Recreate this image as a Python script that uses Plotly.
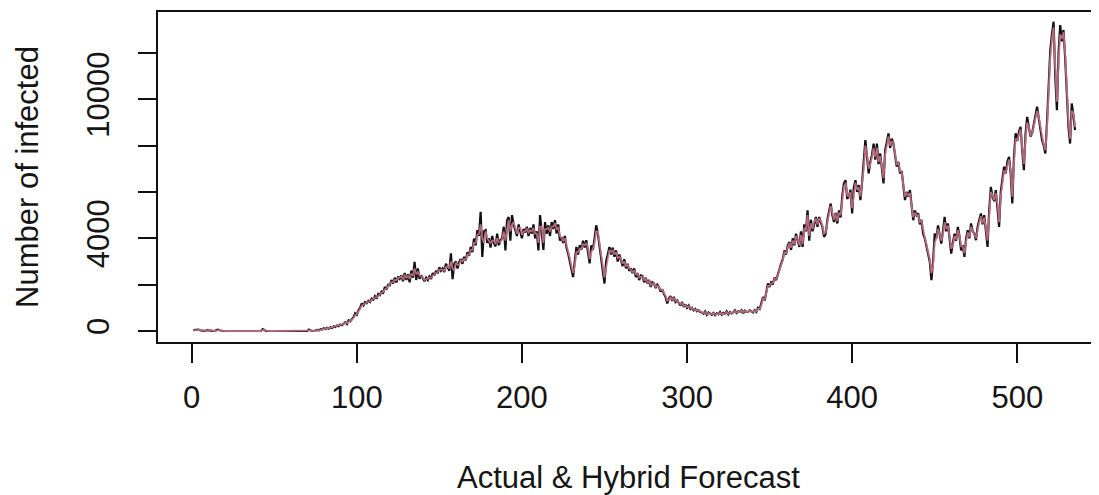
import plotly.graph_objects as go

# Daily actual infected counts, rows = weeks
actual = [
    40, 50, 30, 60, 40, 20, 0,
    0, 30, 50, 40, 0, 0, 0,
    40, 60, 30, 0, 0, 0, 0,
    0, 0, 0, 0, 0, 0, 0,
    0, 0, 0, 0, 0, 0, 0,
    0, 0, 0, 0, 0, 0, 0,
    80, 40, 0, 0, 0, 0, 0,
    0, 0, 0, 0, 0, 0, 0,
    0, 0, 0, 0, 0, 0, 0,
    0, 0, 0, 0, 0, 0, 0,
    60, 20, 0, 0, 30, 50, 20,
    80, 60, 120, 90, 140, 100, 160,
    130, 200, 170, 240, 210, 280, 250,
    320, 380, 300, 460, 420, 520, 600,
    760, 700, 900, 1000, 1190, 1100, 1250,
    1200, 1300, 1250, 1400, 1350, 1500, 1400,
    1600, 1550, 1700, 1650, 1900, 1800, 2000,
    1970, 2200, 2050, 2300, 2100, 2350, 2250,
    2400, 2150, 2500, 2200, 2450, 2100, 2600,
    2300, 2980, 2200, 2700, 2250, 2400, 2270,
    2150, 2300, 2200, 2350, 2250, 2500, 2400,
    2600, 2490, 2750, 2600, 2700, 2550, 2900,
    2750, 2600, 3350, 2240, 2900, 3000, 2700,
    2980, 3100, 2900, 3200, 3050, 3400, 3250,
    3630, 3400, 3990, 3700, 4350, 4100, 5140,
    3200, 4300, 4350, 3800, 4000, 3600, 4100,
    3800, 3650, 4200, 3700, 3920, 4000, 4500,
    3480, 4780, 4920, 3900, 5000, 4600, 4350,
    4100, 4600, 4350, 4000, 4400, 4250, 4500,
    4100, 4450, 4200, 4600, 4000, 4300, 3480,
    5000, 4300, 3500, 4700, 4200, 4560, 4100,
    4700, 4400, 4780, 4200, 4600, 3900, 4060,
    3800, 4100, 3600, 3340, 3000, 2600, 2330,
    3000, 3630, 3300, 3700, 3500, 3900, 3600,
    3920, 3400, 2920, 3700, 3500, 4000, 4560,
    4200, 3600, 3200, 2500, 2050, 3000, 3400,
    3630, 3300, 3600, 3200, 3480, 3000, 3300,
    3050, 2800, 3100, 2700, 2900, 2600, 2700,
    2500, 2700, 2330, 2500, 2200, 2400, 2370,
    2100, 2300, 2050, 2200, 1900, 2100, 2050,
    1850, 2000, 1900, 1700, 1800, 1600, 1470,
    1190, 1400, 1500, 1300, 1470, 1250, 1320,
    1200, 1100, 1250, 1040, 1150, 1000, 1100,
    950, 1000, 890, 950, 850, 900, 820,
    800, 750, 850, 700, 800, 750, 700,
    780, 680, 760, 720, 820, 700, 780,
    750, 850, 720, 820, 760, 800, 890,
    780, 850, 820, 900, 760, 880, 820,
    820, 890, 850, 800, 900, 820, 1000,
    950, 1200, 1470, 1300, 1700, 2050, 1900,
    2100, 2050, 2300, 2200, 2480, 2700, 2910,
    3100, 3480, 3300, 3700, 3840, 3500, 4000,
    3700, 4200, 3900, 3630, 4300, 3630, 4600,
    4300, 5210, 3900, 4800, 4300, 4600, 4920,
    4500, 4920, 4700, 4490, 4060, 4200, 4800,
    5200, 5500, 5000, 4700, 5100, 4640, 5200,
    4900, 5800, 6370, 6510, 5700, 5790, 6100,
    5070, 6200, 6510, 6000, 6300, 5650, 6400,
    7200, 8240, 7500, 6800, 7300, 7600, 8090,
    7400, 8090, 7200, 7660, 7000, 6370, 7800,
    8200, 8530, 7900, 8300, 8090, 7500, 7090,
    7300, 6800, 6900, 6300, 5650, 6000, 5800,
    6080, 5400, 4780, 5200, 5000, 5070, 4600,
    4800, 4200, 4000, 3700, 3340, 3000, 2190,
    3000, 4200, 4000, 4560, 4100, 3770, 4300,
    4920, 4300, 4640, 4000, 3340, 3800, 4200,
    3900, 4490, 4100, 3480, 3700, 3200, 4000,
    4350, 4000, 4640, 4300, 4200, 3920, 4500,
    4800, 5070, 4600, 5000, 4300, 3630, 5200,
    6220, 5800, 5600, 6080, 5400, 4490, 6000,
    6500, 7090, 6800, 7300, 7520, 6800, 5500,
    7500, 8530, 8200, 8600, 8810, 7800, 6940,
    8500, 9240, 8800, 8400, 8530, 8900, 9300,
    9680, 9200, 8700, 8240, 8000, 7660, 9000,
    10830, 12130, 12800, 13350, 11000, 9530, 12000,
    13200, 12500, 12990, 11800, 10110, 8800, 8090,
    9820, 9300, 8670,
]

# Hybrid forecast, rows = weeks
hybrid = [
    30, 40, 45, 35, 50, 35, 15,
    5, 10, 35, 45, 30, 5, 0,
    20, 45, 50, 20, 5, 0, 0,
    0, 0, 0, 0, 0, 0, 0,
    0, 0, 0, 0, 0, 0, 0,
    0, 0, 0, 0, 0, 0, 0,
    40, 60, 20, 5, 0, 0, 0,
    0, 0, 0, 0, 0, 0, 0,
    0, 0, 0, 0, 0, 0, 0,
    0, 0, 0, 0, 0, 0, 0,
    30, 40, 10, 0, 15, 40, 35,
    50, 70, 100, 110, 120, 120, 140,
    150, 170, 190, 210, 230, 250, 270,
    300, 350, 340, 400, 440, 480, 560,
    680, 730, 820, 950, 1100, 1150, 1200,
    1230, 1270, 1280, 1350, 1380, 1450, 1450,
    1520, 1580, 1650, 1680, 1800, 1850, 1930,
    1990, 2100, 2120, 2200, 2200, 2280, 2300,
    2350, 2250, 2400, 2300, 2380, 2250, 2450,
    2400, 2700, 2450, 2550, 2400, 2350, 2300,
    2200, 2250, 2250, 2300, 2300, 2400, 2450,
    2500, 2550, 2650, 2650, 2650, 2600, 2750,
    2800, 2700, 3000, 2700, 2600, 2950, 2850,
    2850, 3050, 3000, 3100, 3100, 3300, 3300,
    3500, 3500, 3800, 3800, 4150, 4200, 4600,
    4000, 3800, 4300, 4000, 3900, 3800, 3900,
    3900, 3750, 4000, 3850, 3850, 3950, 4300,
    3900, 4400, 4800, 4300, 4600, 4700, 4450,
    4200, 4450, 4450, 4150, 4300, 4300, 4400,
    4250, 4350, 4300, 4450, 4200, 4200, 3800,
    4500, 4500, 3800, 4400, 4400, 4450, 4300,
    4500, 4500, 4650, 4400, 4450, 4100, 4000,
    3900, 4000, 3750, 3450, 3150, 2800, 2500,
    2800, 3400, 3400, 3550, 3550, 3750, 3700,
    3800, 3600, 3100, 3400, 3550, 3800, 4300,
    4300, 3850, 3400, 2800, 2300, 2700, 3200,
    3500, 3400, 3500, 3300, 3400, 3150, 3200,
    3100, 2900, 3000, 2800, 2850, 2700, 2650,
    2550, 2600, 2450, 2450, 2300, 2350, 2350,
    2200, 2250, 2100, 2150, 1980, 2050, 2050,
    1900, 1950, 1900, 1780, 1780, 1650, 1520,
    1300, 1350, 1450, 1350, 1420, 1300, 1300,
    1230, 1150, 1200, 1080, 1120, 1030, 1070,
    980, 990, 920, 930, 870, 890, 840,
    810, 770, 820, 730, 780, 750, 720,
    760, 700, 740, 720, 790, 720, 760,
    750, 820, 740, 800, 770, 790, 860,
    800, 830, 820, 880, 790, 860, 830,
    820, 870, 860, 820, 880, 840, 960,
    960, 1120, 1400, 1350, 1600, 1950, 1950,
    2050, 2080, 2250, 2250, 2400, 2650, 2850,
    3050, 3400, 3350, 3600, 3800, 3600, 3900,
    3750, 4100, 3950, 3700, 4150, 3750, 4450,
    4350, 5000, 4100, 4650, 4400, 4700, 4850,
    4600, 4850, 4750, 4550, 4200, 4250, 4700,
    5100, 5400, 5100, 4800, 5050, 4750, 5100,
    5000, 5600, 6200, 6400, 5850, 5800, 6000,
    5300, 6000, 6400, 6100, 6200, 5800, 6300,
    7000, 8000, 7600, 7000, 7200, 7500, 7900,
    7500, 7900, 7300, 7550, 7100, 6600, 7600,
    8000, 8400, 8000, 8200, 8100, 7600, 7200,
    7250, 6900, 6850, 6400, 5800, 5950, 5850,
    5950, 5500, 4900, 5100, 5000, 5000, 4700,
    4750, 4300, 4050, 3750, 3400, 3100, 2500,
    2800, 3800, 4000, 4400, 4200, 3900, 4150,
    4700, 4400, 4550, 4100, 3550, 3700, 4100,
    3950, 4350, 4150, 3650, 3650, 3350, 3850,
    4250, 4050, 4500, 4300, 4200, 4000, 4400,
    4700, 4950, 4650, 4900, 4400, 3900, 4950,
    6000, 5850, 5650, 5950, 5500, 4700, 5800,
    6350, 6900, 6850, 7200, 7400, 6900, 5800,
    7200, 8300, 8250, 8500, 8700, 7900, 7200,
    8300, 9000, 8800, 8450, 8500, 8800, 9200,
    9500, 9250, 8800, 8350, 8050, 7800, 8700,
    10300, 11800, 12600, 13100, 11400, 9900, 11600,
    12800, 12600, 12900, 12000, 10500, 9000, 8300,
    9500, 9400, 8800,
]

x_ticks = [0, 100, 200, 300, 400, 500]
y_ticks = [0, 2000, 4000, 6000, 8000, 10000, 12000]
y_tick_labels = ["0", "", "4000", "", "", "10000", ""]

days_a = list(range(1, len(actual) + 1))
days_h = list(range(1, len(hybrid) + 1))

FONT = "Liberation Sans, Arial, Helvetica, sans-serif"

fig = go.Figure()
fig.add_trace(go.Scatter(x=days_a, y=actual, mode="lines",
                         line=dict(color="#111111", width=2.2), name="Actual"))
fig.add_trace(go.Scatter(x=days_h, y=hybrid, mode="lines",
                         line=dict(color="#d0798e", width=1.8),
                         opacity=0.85, name="Hybrid Forecast"))

# page body has an 8px default margin, so the figure is 8px smaller than the window
fig.update_layout(
    width=1091, height=487,
    margin=dict(l=150, r=0, t=4, b=153, autoexpand=False),
    paper_bgcolor="white", plot_bgcolor="white",
    showlegend=False,
    font=dict(family=FONT, size=31, color="#151515"),
)
fig.update_xaxes(
    range=[-20.4, 549.5], tickvals=x_ticks, ticktext=[str(v) for v in x_ticks],
    ticks="outside", ticklen=19, tickwidth=2, tickcolor="#111111",
    showline=True, linecolor="#111111", linewidth=2, mirror=True,
    showgrid=False, zeroline=False,
    tickfont=dict(size=31), ticklabelstandoff=8,
    title=dict(text="Actual & Hybrid Forecast", font=dict(size=31), standoff=52),
)
fig.update_yaxes(
    range=[-475, 13767], tickvals=y_ticks, ticktext=y_tick_labels,
    ticks="outside", ticklen=18, tickwidth=2, tickcolor="#111111",
    showline=True, linecolor="#111111", linewidth=2, mirror=False,
    showgrid=False, zeroline=False, tickangle=-90,
    tickfont=dict(size=31), ticklabelstandoff=17,
    title=dict(text="Number of infected", font=dict(size=31), standoff=33),
)

fig.write_html("out.html")
